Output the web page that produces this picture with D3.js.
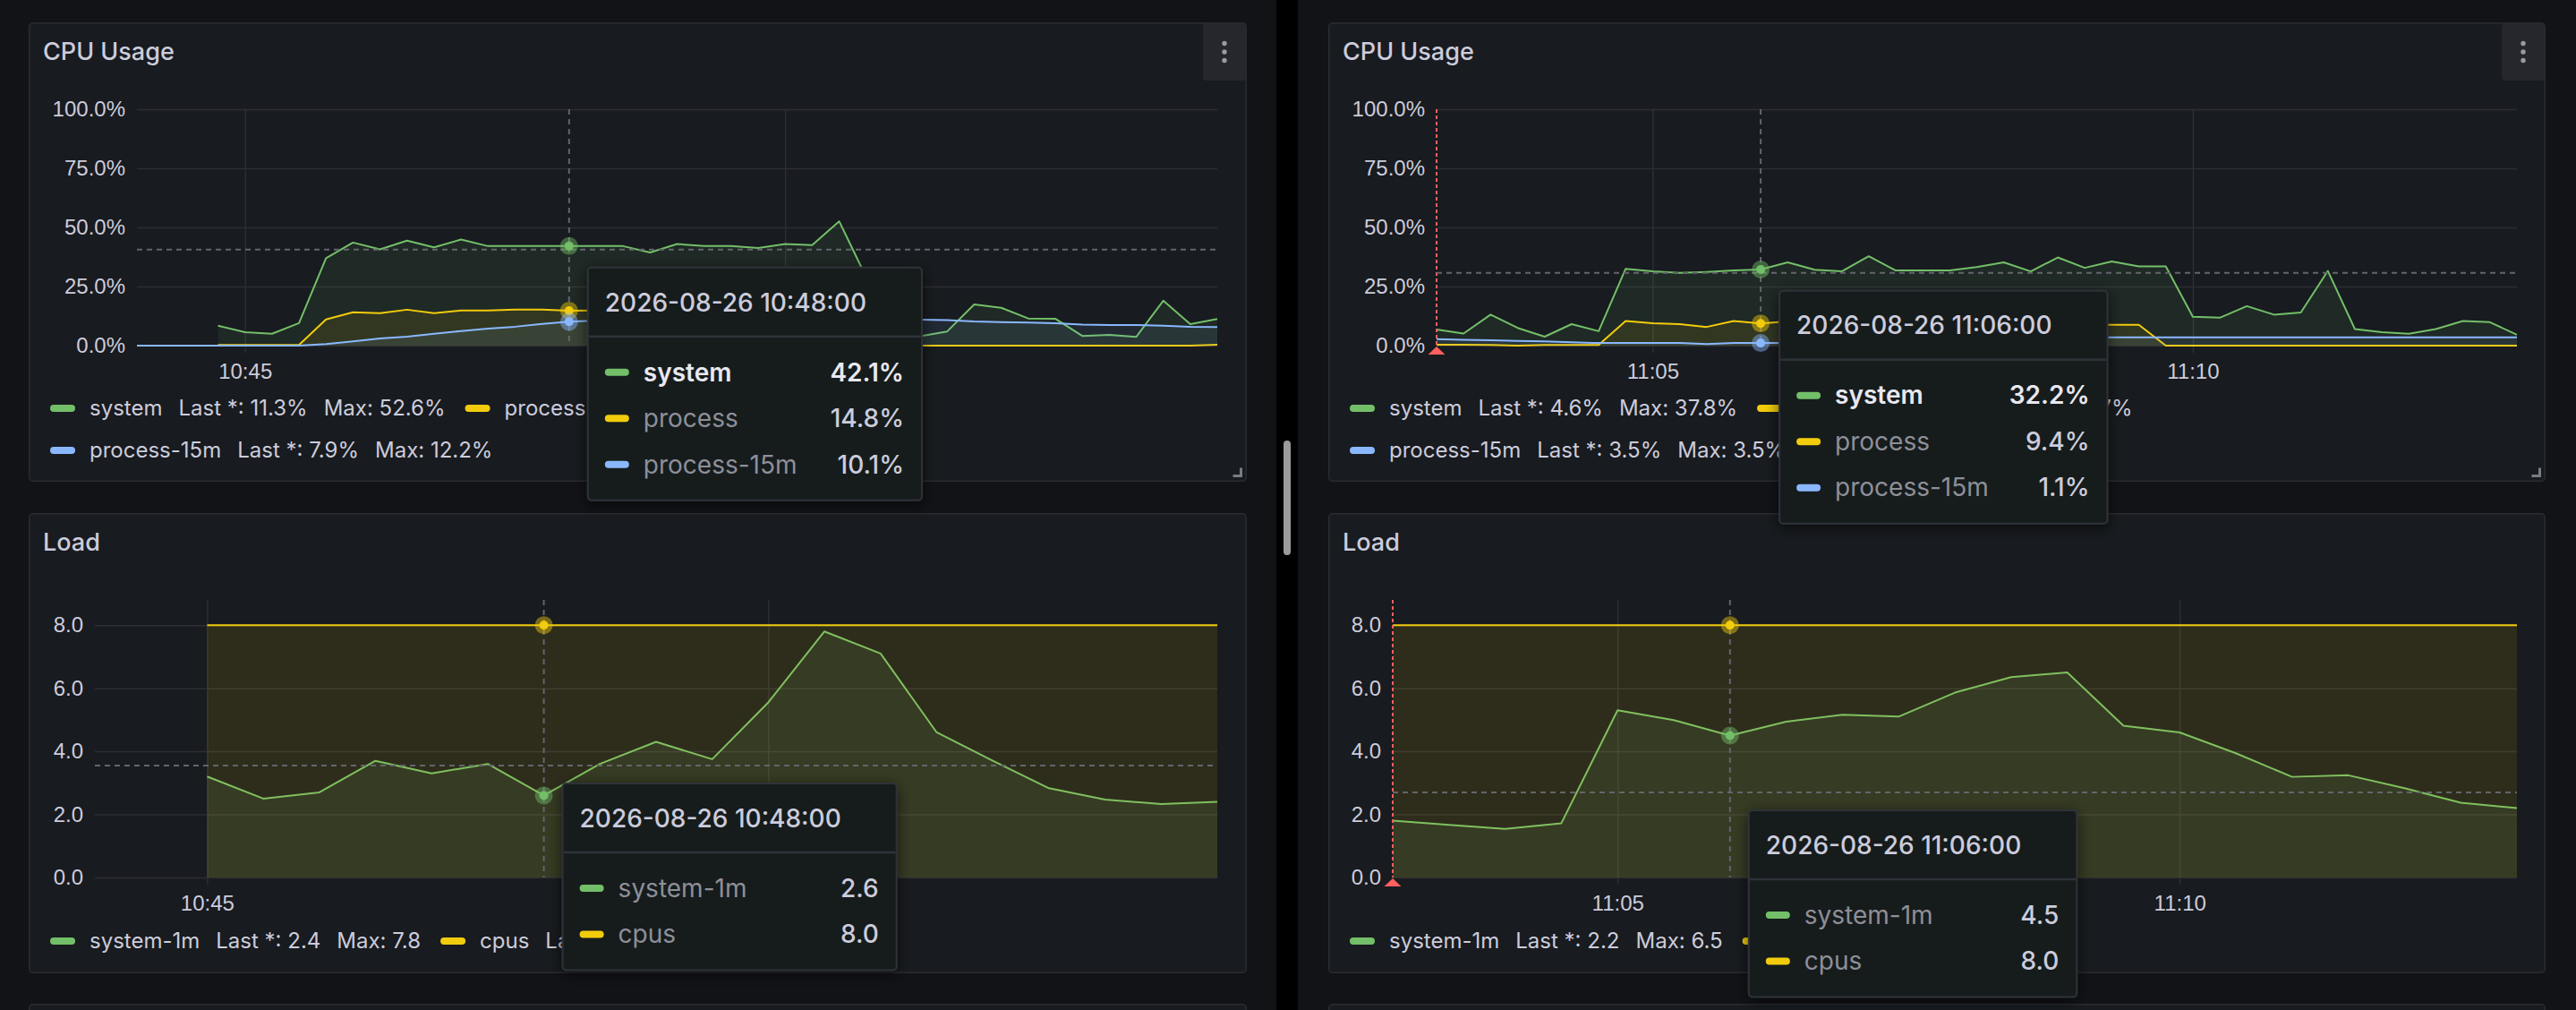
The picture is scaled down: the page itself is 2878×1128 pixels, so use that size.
<!DOCTYPE html>
<html>
<head>
<meta charset="utf-8">
<script src="https://cdn.jsdelivr.net/npm/d3@7"></script>
<style>
  html, body { margin: 0; background: #111217; overflow: hidden; }
  svg { display: block; font-family: Inter, "Noto Sans", sans-serif; }
</style>
</head>
<body>
<svg id="chart" width="2878" height="1128"></svg>
<script>
// ---------- data ----------
const day = "2026-08-26";

// left column (10:44 - 10:54)
const cpuSystemA = [8.4, 5.7, 5.0, 9.5, 37.0, 43.6, 40.7, 44.4, 41.6, 44.9, 42.1, 42.1, 42.1, 42.1, 42.1, 42.1, 39.4, 43.0, 42.1, 42.1,
  41.3, 43.0, 42.5, 52.6, 29.0, 7.0, 4.0, 6.0, 17.4, 16.0, 11.5, 11.4, 4.1, 4.5, 3.7, 19.0, 9.1, 11.3];
const cpuProcessA = [0.3, 0.3, 0.3, 0.3, 11.1, 14.1, 13.7, 15.2, 13.7, 14.9, 14.9, 15.2, 15.2, 14.8, 14.9, 15.0, 14.6, 15.1, 14.9, 15.0,
  14.8, 15.1, 14.9, 15.3, 6.0, 0, 0, 0, 0, 0, 0, 0, 0, 0, 0, 0, 0, 0.4];
const cpuProcess15A = [0, 0, 0, 0, 0, 0, 0, 0.7, 1.8, 3.0, 3.8, 5.0, 6.2, 7.2, 8.0, 9.2, 10.1, 10.6, 11.0, 11.4, 11.7,
  11.9, 12.1, 12.2, 12.1, 11.8, 11.6, 11.4, 11.2, 11.0, 10.8, 10.2, 9.9, 9.8, 9.5, 8.9, 8.7, 8.7, 8.4, 8.0, 7.9];
const loadSystemA = [3.2, 2.5, 2.7, 3.7, 3.3, 3.6, 2.6, 3.6, 4.3, 3.75, 5.55, 7.8, 7.1, 4.6, 3.7, 2.83, 2.47, 2.33, 2.4];
const loadCpusA = [8, 8, 8, 8, 8, 8, 8, 8, 8, 8, 8, 8, 8, 8, 8, 8, 8, 8, 8];

// right column (11:03 - 11:13)
const cpuSystemB = [6.8, 5.1, 13.1, 7.5, 3.8, 9.1, 6.1, 32.5, 31.4, 30.8, 31.2, 31.8, 32.2, 35.2, 32.1, 31.4, 37.8, 31.8, 31.8, 31.8,
  33.2, 35.2, 31.4, 37.3, 32.9, 35.6, 33.5, 33.5, 12.2, 11.8, 16.7, 13.1, 14.0, 31.6, 7.0, 5.7, 5.0, 7.0, 10.4, 9.9, 4.6];
const cpuProcessB = [0.4, 0.4, 0.3, 0, 0.3, 0.3, 0.3, 10.4, 9.5, 9.1, 7.9, 10.4, 9.4, 10.2, 9.8, 10.1, 10.7, 9.9, 10.3, 9.6,
  10.0, 9.7, 10.4, 9.5, 9.0, 8.8, 8.8, 0, 0, 0, 0, 0, 0, 0, 0, 0, 0, 0, 0, 0, 0];
const cpuProcess15B = [2.7, 2.5, 2.3, 2.0, 1.8, 1.4, 1.1, 1.1, 1.1, 1.1, 0.7, 1.1, 1.1, 1.1, 1.2, 1.4, 1.8, 2.3, 2.8, 3.2,
  3.5, 3.5, 3.5, 3.5, 3.5, 3.5, 3.5, 3.5, 3.5, 3.5, 3.5, 3.5, 3.5, 3.5, 3.5, 3.5, 3.5, 3.5, 3.5, 3.5, 3.5];
const loadSystemB = [1.8, 1.67, 1.54, 1.72, 5.3, 4.99, 4.5, 4.94, 5.16, 5.1, 5.86, 6.35, 6.5, 4.81, 4.6, 3.94, 3.19, 3.24, 2.83, 2.37, 2.2];
const loadCpusB = [8, 8, 8, 8, 8, 8, 8, 8, 8, 8, 8, 8, 8, 8, 8, 8, 8, 8, 8, 8, 8];

const cpuTicks = [0, 25, 50, 75, 100];
const loadTicks = [0, 2, 4, 6, 8];

// ---------- helpers ----------
const parse = d3.timeParse("%Y-%m-%d %H:%M:%S");
const T = s => parse(day + " " + s);
function steps(from, to, sec) {
  return d3.timeSecond.every(sec).range(T(from), new Date(+T(to) + 1));
}
const fmtPct = v => v === 0 ? "0%" : d3.format(".1f")(v) + "%";
const fmtPctAxis = v => d3.format(".1f")(v) + "%";
const fmtLoad = d3.format(".1f");
const fmtHead = d3.timeFormat("%Y-%m-%d %H:%M:%S");

const green = "#73BF69", yellow = "#F2CC0C", blue = "#8AB8FF";
const textCol = "#ccccdc";

const svg = d3.select("#chart");
svg.append("defs").append("filter").attr("id", "shadow")
  .attr("x", "-20%").attr("y", "-20%").attr("width", "140%").attr("height", "150%")
  .append("feDropShadow").attr("dx", 0).attr("dy", 4).attr("stdDeviation", 8)
  .attr("flood-color", "#000").attr("flood-opacity", 0.6);

svg.append("rect").attr("width", 2878).attr("height", 1128).attr("fill", "#121317");
// scrollbar track + thumb
svg.append("rect").attr("x", 1426).attr("width", 24).attr("height", 1128).attr("fill", "#000");
svg.append("rect").attr("x", 1434).attr("y", 492).attr("width", 8).attr("height", 128).attr("rx", 4).attr("fill", "#9b9b9b");

const tooltips = [];

function panelBox(x, y, w, h) {
  svg.append("rect").attr("x", x + 0.75).attr("y", y + 0.75).attr("width", w - 1.5).attr("height", h - 1.5)
    .attr("rx", 4).attr("fill", "#181b1f").attr("stroke", "#2a2c32").attr("stroke-width", 1.5);
}

function panel(p) {
  panelBox(p.x, p.y, p.w, p.h);
  const g = svg.append("g");

  g.append("text").attr("x", p.x + 16).attr("y", p.y + 33).attr("dy", "0.35em")
    .attr("fill", textCol).attr("font-size", 27).attr("font-weight", 500).text(p.title);

  if (p.menu) {
    g.append("rect").attr("x", p.x + p.w - 49).attr("y", p.y + 1).attr("width", 48).attr("height", 64)
      .attr("rx", 4).attr("fill", "#25272d");
    g.selectAll(".dot").data([-9.5, 0, 9.5]).join("circle")
      .attr("cx", p.x + p.w - 25).attr("cy", d => p.y + 33 + d).attr("r", 2.7).attr("fill", "#9a9aa4");
  }

  const x = d3.scaleTime().domain(p.xDomain).range([p.x0, p.x1]);
  const y = d3.scaleLinear().domain(p.yDomain).range([p.yBottom, p.yTop]);

  // y axis + horizontal grid
  const ya = g.append("g").attr("transform", `translate(${p.x0},0)`)
    .call(d3.axisLeft(y).tickValues(p.yTicks).tickFormat(p.tickFmt).tickSize(-(p.x1 - p.x0)).tickPadding(13));
  ya.select(".domain").remove();
  ya.selectAll("line").attr("stroke", "#2c2e34").attr("stroke-width", 1.5);
  ya.selectAll("text").attr("fill", textCol).attr("font-size", 24).attr("font-family", null);

  // x axis + vertical grid
  const xa = g.append("g").attr("transform", `translate(0,${p.yBottom + 8})`)
    .call(d3.axisBottom(x).ticks(d3.timeMinute.every(5)).tickFormat(d3.timeFormat("%H:%M"))
      .tickSize(-(p.yBottom + 8 - p.yTop)));
  xa.select(".domain").remove();
  xa.selectAll("line").attr("stroke", "#2c2e34").attr("stroke-width", 1.5);
  xa.selectAll("text").attr("fill", textCol).attr("font-size", 24).attr("font-family", null)
    .attr("y", 21).attr("dy", "0.35em");

  // series
  p.series.forEach(s => {
    const pts = s.values.map((v, i) => ({ t: s.times[i], v }));
    g.append("path").datum(pts).attr("fill", s.color).attr("fill-opacity", p.fillOpacity)
      .attr("d", d3.area().x(d => x(d.t)).y0(y(0)).y1(d => y(d.v)));
    g.append("path").datum(pts).attr("fill", "none").attr("stroke", s.color).attr("stroke-width", 2)
      .attr("stroke-linejoin", "round").attr("d", d3.line().x(d => x(d.t)).y(d => y(d.v)));
  });

  // annotation marker at the start of the range
  if (p.annotation) {
    g.append("line").attr("x1", p.x0).attr("x2", p.x0).attr("y1", p.yTop).attr("y2", p.yBottom)
      .attr("stroke", "#ff5f5f").attr("stroke-width", 2).attr("stroke-dasharray", "4,3");
    g.append("path").attr("fill", "#ff5f5f")
      .attr("d", `M${p.x0},${p.yBottom + 1}L${p.x0 + 9.5},${p.yBottom + 10}L${p.x0 - 9.5},${p.yBottom + 10}Z`);
  }

  // crosshair
  const hx = x(p.hoverTime), cy = y(p.cursorValue);
  g.append("line").attr("x1", hx).attr("x2", hx).attr("y1", p.yTop).attr("y2", p.yBottom)
    .attr("stroke", "#63656c").attr("stroke-width", 2).attr("stroke-dasharray", "6,5");
  g.append("line").attr("x1", p.x0).attr("x2", p.x1).attr("y1", cy).attr("y2", cy)
    .attr("stroke", "#63656c").attr("stroke-width", 2).attr("stroke-dasharray", "6,5");

  const rows = p.series.map(s => {
    const i = s.times.findIndex(t => +t === +p.hoverTime);
    return { name: s.name, color: s.color, v: s.values[i] };
  });
  rows.forEach(r => {
    g.append("circle").attr("cx", hx).attr("cy", y(r.v)).attr("r", 10).attr("fill", r.color).attr("fill-opacity", 0.45);
    g.append("circle").attr("cx", hx).attr("cy", y(r.v)).attr("r", 5).attr("fill", r.color);
  });

  // legend
  let lx = p.x + 24, row = 0;
  p.series.forEach(s => {
    const item = g.append("g");
    item.append("rect").attr("y", -4).attr("width", 28).attr("height", 8).attr("rx", 4).attr("fill", s.color);
    const t = item.append("text").attr("x", 44).attr("dy", "0.35em").attr("fill", textCol).attr("font-size", 24);
    t.append("tspan").text(s.name);
    t.append("tspan").attr("dx", 18).text("Last *: " + p.fmt(s.values[s.values.length - 1]));
    t.append("tspan").attr("dx", 18).text("Max: " + p.fmt(d3.max(s.values)));
    const iw = 44 + t.node().getBBox().width;
    if (lx + iw > p.x1 && lx > p.x + 24) { lx = p.x + 24; row++; }
    item.attr("transform", `translate(${lx},${p.legendY + row * 47})`);
    lx += iw + 22;
  });

  if (p.handle) {
    const hx2 = p.x + p.w - 6.5, hy2 = p.y + p.h - 6.5;
    g.append("path").attr("fill", "none").attr("stroke", "#7a7c82").attr("stroke-width", 3)
      .attr("d", `M${hx2},${hy2 - 9}V${hy2}H${hx2 - 9}`);
  }

  tooltips.push({ x: hx + 21, y: cy + 20, time: p.hoverTime, rows, fmt: p.fmt, highlight: p.highlight });
}

function drawTooltip(tp) {
  const g = svg.append("g").attr("transform", `translate(${tp.x},${tp.y})`);
  const box = g.append("rect").attr("rx", 4).attr("fill", "#181b1f")
    .attr("stroke", "#2f3238").attr("stroke-width", 2).attr("filter", "url(#shadow)");
  const head = g.append("text").attr("x", 19).attr("y", 39).attr("dy", "0.35em")
    .attr("fill", textCol).attr("font-size", 28).attr("font-weight", 500).text(fmtHead(tp.time));
  const w = head.node().getBBox().width + 81;
  const h = 117 + (tp.rows.length - 1) * 51.5 + 40;
  box.attr("width", w).attr("height", h);
  g.append("line").attr("x1", 1).attr("x2", w - 1).attr("y1", 77).attr("y2", 77)
    .attr("stroke", "#2f3238").attr("stroke-width", 2.5);
  tp.rows.forEach((r, i) => {
    const ry = 117 + i * 51.5;
    const hi = r.name === tp.highlight;
    g.append("rect").attr("x", 19).attr("y", ry - 4).attr("width", 27).attr("height", 8).attr("rx", 4).attr("fill", r.color);
    g.append("text").attr("x", 62).attr("y", ry).attr("dy", "0.35em").attr("font-size", 28)
      .attr("fill", hi ? "#e8e8f0" : "#8e8f99").attr("font-weight", hi ? 600 : 400).text(r.name);
    g.append("text").attr("x", w - 20).attr("y", ry).attr("dy", "0.35em").attr("font-size", 28)
      .attr("text-anchor", "end").attr("fill", hi ? "#e8e8f0" : textCol).attr("font-weight", hi ? 600 : 500)
      .text(tp.fmt(r.v));
  });
}

// ---------- panels ----------
const cpuTimesA = steps("10:44:45", "10:54:00", 15);
const cpu15TimesA = steps("10:44:00", "10:54:00", 15);
const loadTimesA = steps("10:45:00", "10:54:00", 30);
const cpuTimesB = steps("11:03:00", "11:13:00", 15);
const loadTimesB = steps("11:03:00", "11:13:00", 30);

panel({
  x: 32, y: 25, w: 1361, h: 513, title: "CPU Usage", menu: true, handle: true,
  x0: 153, x1: 1360, yTop: 122, yBottom: 386, legendY: 456,
  xDomain: [T("10:44:00"), T("10:54:00")], yDomain: [0, 100], yTicks: cpuTicks, fmt: fmtPct, tickFmt: fmtPctAxis,
  fillOpacity: 0.09, hoverTime: T("10:48:00"), cursorValue: 40.6, highlight: "system",
  series: [
    { name: "system", color: green, times: cpuTimesA, values: cpuSystemA },
    { name: "process", color: yellow, times: cpuTimesA, values: cpuProcessA },
    { name: "process-15m", color: blue, times: cpu15TimesA, values: cpuProcess15A }
  ]
});

panel({
  x: 1484, y: 25, w: 1360, h: 513, title: "CPU Usage", menu: true, handle: true, annotation: true,
  x0: 1605, x1: 2812, yTop: 122, yBottom: 386, legendY: 456,
  xDomain: [T("11:03:00"), T("11:13:00")], yDomain: [0, 100], yTicks: cpuTicks, fmt: fmtPct, tickFmt: fmtPctAxis,
  fillOpacity: 0.09, hoverTime: T("11:06:00"), cursorValue: 30.8, highlight: "system",
  series: [
    { name: "system", color: green, times: cpuTimesB, values: cpuSystemB },
    { name: "process", color: yellow, times: cpuTimesB, values: cpuProcessB },
    { name: "process-15m", color: blue, times: cpuTimesB, values: cpuProcess15B }
  ]
});

panel({
  x: 32, y: 573, w: 1361, h: 514, title: "Load",
  x0: 106, x1: 1360, yTop: 670, yBottom: 980, legendY: 1051,
  xDomain: [T("10:44:00"), T("10:54:00")], yDomain: [0, 8.8], yTicks: loadTicks, fmt: fmtLoad, tickFmt: fmtLoad,
  fillOpacity: 0.1, hoverTime: T("10:48:00"), cursorValue: 3.55, highlight: null,
  series: [
    { name: "system-1m", color: green, times: loadTimesA, values: loadSystemA },
    { name: "cpus", color: yellow, times: loadTimesA, values: loadCpusA }
  ]
});

panel({
  x: 1484, y: 573, w: 1360, h: 514, title: "Load", annotation: true,
  x0: 1556, x1: 2812, yTop: 670, yBottom: 980, legendY: 1051,
  xDomain: [T("11:03:00"), T("11:13:00")], yDomain: [0, 8.8], yTicks: loadTicks, fmt: fmtLoad, tickFmt: fmtLoad,
  fillOpacity: 0.1, hoverTime: T("11:06:00"), cursorValue: 2.7, highlight: null,
  series: [
    { name: "system-1m", color: green, times: loadTimesB, values: loadSystemB },
    { name: "cpus", color: yellow, times: loadTimesB, values: loadCpusB }
  ]
});

// next row of panels, only the top edge is visible
panelBox(32, 1121, 1361, 60);
panelBox(1484, 1121, 1360, 60);

tooltips.forEach(drawTooltip);
</script>
</body>
</html>
